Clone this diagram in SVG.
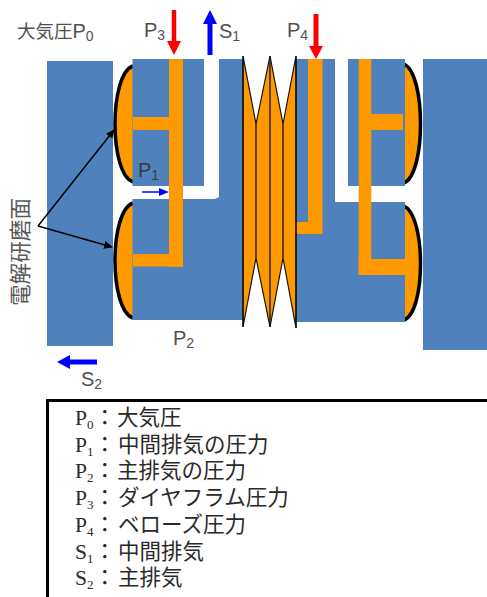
<svg xmlns="http://www.w3.org/2000/svg" width="487" height="597" viewBox="0 0 487 597">
<style>
.b{fill:#4f81bd}
.o{fill:#ff9900}
.bulge{fill:#ff9900;stroke:#000;stroke-width:3.5;stroke-linecap:butt}
.ln{fill:none;stroke:#111;stroke-width:1.300}
.lab{font-family:"Liberation Sans","Noto Sans CJK JP",sans-serif;font-size:20px;fill:#505050}
.jp{font-family:"Noto Sans CJK JP",sans-serif;font-size:18.500px}
.cjk{font-family:"Noto Sans CJK JP",sans-serif;font-size:21.600px;fill:#595959}
.sub{font-size:14px}
.leg{font-family:"Liberation Serif","Noto Sans CJK JP",serif;font-size:21.500px;fill:#2a2a2a}
.ls{font-size:13px}
</style>
<defs>
<marker id="ah" markerWidth="10" markerHeight="10" refX="8" refY="4" orient="auto" markerUnits="userSpaceOnUse"><path d="M0 0L9 4L0 8Z" fill="#000"/></marker>
</defs>
<g id="left-block"><rect class="b" x="47" y="61" width="66" height="285"/></g>
<g id="right-block"><rect class="b" x="423" y="59" width="64" height="291"/></g>
<g id="left-bulges">
<path class="bulge" d="M133 66C109 74 109 174 133 182"/>
<path class="bulge" d="M133 203C109 211 109 310 133 318"/>
</g>
<g id="right-bulges">
<path class="bulge" d="M404 64C426 74 426 174 404 183"/>
<path class="bulge" d="M404 206C426 216 426 312 404 320"/>
</g>
<g id="left-structure">
<path class="b" d="M132.500 59H204V186H132.500ZM219 59H243V320H132.500V199H215L219 197Z"/>
<rect class="o" x="169" y="59" width="14" height="208"/>
<rect class="o" x="133" y="117" width="36" height="13"/>
<rect class="o" x="133" y="254" width="50" height="12.500"/>
</g>
<g id="right-structure">
<path class="b" d="M295 59H335V202H405V322H295ZM348 59H405V186H348Z"/>
<rect class="o" x="308" y="59" width="14.500" height="175"/>
<rect class="o" x="296" y="222" width="26" height="12"/>
<rect class="o" x="358.700" y="59" width="12.600" height="216"/>
<rect class="o" x="371" y="114" width="32" height="16"/>
<rect class="o" x="358.700" y="259" width="46.300" height="16"/>
</g>
<g id="bellows">
<path class="o" d="M243 56L256 124L270 56L283 124L296 56V328L283 258L270 327L256 258L243 327Z" stroke="#111" stroke-width="1.200"/>
<path class="ln" d="M243 56V327M256 124V258M270 56V327M283 124V258M296 56V328"/>
</g>
<g id="connectors">
<path d="M174 10V43" stroke="#f00" stroke-width="4.500" fill="none"/><path d="M167 41H181L174 55Z" fill="#f00"/>
<path d="M316 14V48" stroke="#f00" stroke-width="5" fill="none"/><path d="M309 46H323L316 59Z" fill="#f00"/>
<path d="M210 55V22" stroke="#00f" stroke-width="5" fill="none"/><path d="M203 24H217L210 10Z" fill="#00f"/>
<path d="M97 362H68" stroke="#00f" stroke-width="5" fill="none"/><path d="M70 355V369L57 362Z" fill="#00f"/>
<path d="M142 192H160" stroke="#00f" stroke-width="1.500" fill="none"/><path d="M159 188V196L169 192Z" fill="#00f"/>
<path d="M38 226L114 130" stroke="#000" stroke-width="1.500" marker-end="url(#ah)" fill="none"/>
<path d="M38 226L112 247" stroke="#000" stroke-width="1.500" marker-end="url(#ah)" fill="none"/>
</g>
<g id="labels">
<text class="lab" x="17" y="38"><tspan class="jp">大気圧</tspan>P<tspan class="sub" dy="3">0</tspan></text>
<text class="lab" x="144" y="37">P<tspan class="sub" dy="3">3</tspan></text>
<text class="lab" x="219" y="38">S<tspan class="sub" dy="3">1</tspan></text>
<text class="lab" x="287" y="37">P<tspan class="sub" dy="3">4</tspan></text>
<text class="lab" x="138" y="177" fill="#333" style="fill:#3a3a3a">P<tspan class="sub" dy="3">1</tspan></text>
<text class="lab" x="173" y="345">P<tspan class="sub" dy="3">2</tspan></text>
<text class="lab" x="81" y="386">S<tspan class="sub" dy="3">2</tspan></text>
<text class="cjk" transform="translate(28 306) rotate(-90)">電解研磨面</text>
</g>
<g id="legend">
<rect x="47.500" y="400.500" width="445" height="210" fill="#fff" stroke="#000" stroke-width="3"/>
<text class="leg" x="75" y="425">P<tspan class="ls" dy="4">0</tspan><tspan x="94" dy="-4">：</tspan><tspan x="117">大気圧</tspan></text>
<text class="leg" x="75" y="451.500">P<tspan class="ls" dy="4">1</tspan><tspan x="94" dy="-4">：</tspan><tspan x="118">中間排気の圧力</tspan></text>
<text class="leg" x="75" y="478">P<tspan class="ls" dy="4">2</tspan><tspan x="94" dy="-4">：</tspan><tspan x="117">主排気の圧力</tspan></text>
<text class="leg" x="75" y="505">P<tspan class="ls" dy="4">3</tspan><tspan x="94" dy="-4">：</tspan><tspan x="118">ダイヤフラム圧力</tspan></text>
<text class="leg" x="75" y="532">P<tspan class="ls" dy="4">4</tspan><tspan x="94" dy="-4">：</tspan><tspan x="118">ベローズ圧力</tspan></text>
<text class="leg" x="75" y="558.500">S<tspan class="ls" dy="4">1</tspan><tspan x="94" dy="-4">：</tspan><tspan x="118">中間排気</tspan></text>
<text class="leg" x="75" y="585">S<tspan class="ls" dy="4">2</tspan><tspan x="94" dy="-4">：</tspan><tspan x="118">主排気</tspan></text>
</g>
</svg>
